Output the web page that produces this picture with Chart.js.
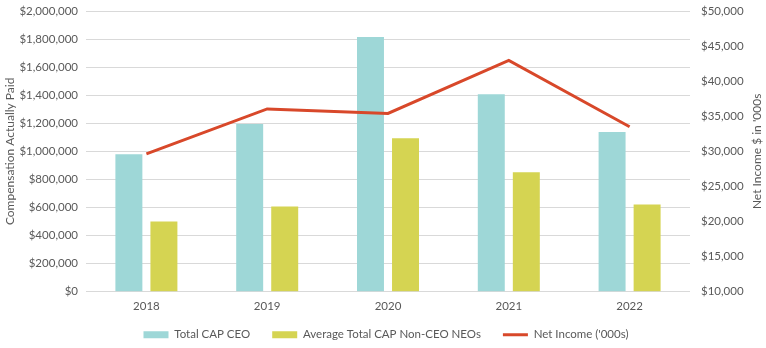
<!DOCTYPE html>
<html>
<head>
<meta charset="utf-8">
<script src="https://cdn.jsdelivr.net/npm/chart.js@4"></script>
<style>
  body { margin: 0; background: #fff; }
  canvas { display: block; }
</style>
</head>
<body>
<canvas id="capChart" width="766" height="348"></canvas>
<script>
// values
const years = ['2018', '2019', '2020', '2021', '2022'];
const ceoCap = [980000, 1195000, 1815000, 1407000, 1137000];
const neoCap = [500000, 607000, 1093000, 851000, 622000];
const netIncome = [29650, 36050, 35400, 42950, 33500];

const textColor = '#595959';
const fontFamily = 'Lato, "Open Sans", sans-serif';

Chart.defaults.font.family = fontFamily;
Chart.defaults.font.size = 11.5;
Chart.defaults.color = textColor;

const money = v => '$' + Number(v).toLocaleString('en-US');

// right axis title reads bottom-to-top like the left one
const rightTitle = {
    id: 'rightTitle',
    afterLayout(chart) {
        // pull the legend up a bit, its label padding is also used vertically
        const lg = chart.legend;
        const h = lg.height;
        lg.top = 307;
        lg.bottom = lg.top + h;
        lg.left = 6;
    },
    afterDraw(chart) {
        const { ctx, chartArea } = chart;
        ctx.save();
        ctx.translate(757, (chartArea.top + chartArea.bottom) / 2);
        ctx.rotate(-Math.PI / 2);
        ctx.fillStyle = textColor;
        ctx.font = '12px ' + fontFamily;
        ctx.textAlign = 'center';
        ctx.textBaseline = 'middle';
        ctx.fillText("Net Income $ in '000s", 0, 0);
        ctx.restore();
    }
};

const noPad = s => { s.paddingTop = 0; s.paddingBottom = 0; };

new Chart(document.getElementById('capChart'), {
    data: {
        labels: years,
        datasets: [
            { type: 'bar', label: 'Total CAP CEO', data: ceoCap, backgroundColor: '#9ED7D7',
              yAxisID: 'y', order: 1, pointStyle: 'rect', borderWidth: 0,
              categoryPercentage: 0.58, barPercentage: 0.77 },
            { type: 'bar', label: 'Average Total CAP Non-CEO NEOs', data: neoCap, backgroundColor: '#D5D452',
              yAxisID: 'y', order: 1, pointStyle: 'rect', borderWidth: 0,
              categoryPercentage: 0.58, barPercentage: 0.77 },
            { type: 'line', label: "Net Income ('000s)", data: netIncome, borderColor: '#D8482A',
              backgroundColor: '#D8482A', borderWidth: 3, pointRadius: 0, pointStyle: 'line',
              tension: 0, yAxisID: 'y1', order: 0 }
        ]
    },
    options: {
        responsive: false,
        animation: false,
        layout: { padding: { top: 11, left: 0, right: 0, bottom: -17 } },
        plugins: {
            tooltip: { enabled: false },
            legend: {
                position: 'bottom',
                labels: {
                    usePointStyle: true,
                    pointStyleWidth: 25,
                    boxHeight: 7,
                    padding: 22,
                    color: textColor,
                    font: { size: 11.5 },
                    sort: (a, b) => a.datasetIndex - b.datasetIndex
                }
            }
        },
        scales: {
            x: {
                grid: { display: false, tickLength: 0 },
                border: { display: false },
                ticks: { padding: 8 }
            },
            y: {
                position: 'left',
                min: 0,
                max: 2000000,
                ticks: { stepSize: 200000, padding: 8, callback: money },
                grid: { color: '#D9D9D9', drawTicks: false },
                border: { display: false },
                title: { display: true, text: 'Compensation Actually Paid', font: { size: 12 }, padding: { top: 3, bottom: 0 } },
                afterFit: s => { s.width = 86; noPad(s); }
            },
            y1: {
                position: 'right',
                min: 10000,
                max: 50000,
                ticks: { stepSize: 5000, padding: 11, callback: money },
                grid: { drawOnChartArea: false, drawTicks: false },
                border: { display: false },
                afterFit: s => { s.width = 76; noPad(s); }
            }
        }
    },
    plugins: [rightTitle]
});
</script>
</body>
</html>
